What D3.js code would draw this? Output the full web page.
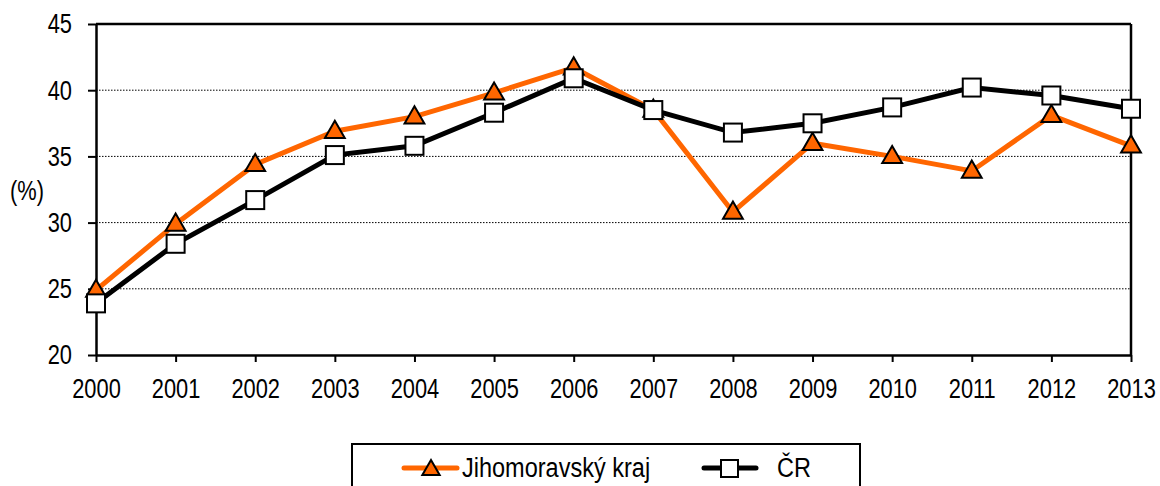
<html>
<head>
<meta charset="utf-8">
<script type="text/javascript" src="https://d3js.org/d3.v7.min.js"></script>
<style>
  body{margin:0;background:#fff;}
  text{font-family:"Liberation Sans Narrow","Arial Narrow","Liberation Sans",Arial,sans-serif;fill:#000;}
</style>
</head>
<body>
<svg width="1160" height="486"></svg>
<script>
	var years = [2000,2001,2002,2003,2004,2005,2006,2007,2008,2009,2010,2011,2012,2013];
	var jihomoravsky = [24.9,29.9,34.4,36.9,38.0,39.8,41.7,38.5,30.8,36.0,35.0,33.9,38.1,35.8];
	var cr = [23.9,28.4,31.7,35.1,35.8,38.3,40.9,38.5,36.8,37.5,38.7,40.2,39.6,38.6];
	var yTicks = [20,25,30,35,40,45];
	var seriesNames = ["Jihomoravský kraj","ČR"];

	var svg = d3.select("svg");
	var orange = "#ff6600";
	var fs = 28;      // velikost pisma
	var sx = 0.78;    // zuzeni pisma (uzky font neni k dispozici)
	var sxLeg = 0.84;

	var x = d3.scaleLinear().domain([2000,2013]).range([96,1131]);
	var y = d3.scaleLinear().domain([20,45]).range([355,24]);

	// mrizka
	svg.append("g").selectAll("line")
		.data(yTicks.filter(function(d){ return d>20 && d<45; }))
		.enter().append("line")
		.attr("x1",x(2000)).attr("x2",x(2013))
		.attr("y1",function(d){ return y(d); })
		.attr("y2",function(d){ return y(d); })
		.attr("stroke","#000")
		.attr("stroke-width",1)
		.attr("stroke-dasharray","1.5,1.5");

	// osy
	var yAxis = d3.axisLeft(y).tickValues(yTicks).tickSize(8).tickSizeOuter(0).tickPadding(16);
	var xAxis = d3.axisBottom(x).tickValues(years).tickFormat(d3.format("d")).tickSize(7).tickSizeOuter(0).tickPadding(16);

	var gy = svg.append("g").attr("transform","translate("+x(2000)+",0)").call(yAxis);
	var gx = svg.append("g").attr("transform","translate(0,"+y(20)+")").call(xAxis);
	[gy,gx].forEach(function(g){
		g.select(".domain").attr("stroke","#000").attr("stroke-width",2.5);
		g.selectAll(".tick line").attr("stroke","#000").attr("stroke-width",2);
		g.selectAll(".tick text").attr("font-size",fs).attr("fill","#000")
			.style("font-family","'Liberation Sans',Arial,sans-serif")
			.attr("transform","scale("+sx+",1)");
	});
	gy.selectAll(".tick text").attr("x",-24/sx);

	// horni a prava hrana
	svg.append("line").attr("x1",x(2000)).attr("x2",x(2013)).attr("y1",y(45)).attr("y2",y(45))
		.attr("stroke","#000").attr("stroke-width",2.5);
	svg.append("line").attr("x1",x(2013)).attr("x2",x(2013)).attr("y1",y(45)).attr("y2",y(20))
		.attr("stroke","#000").attr("stroke-width",2.5);

	svg.append("text").attr("text-anchor","middle").attr("font-size",fs)
		.attr("transform","translate(27,200) scale("+sx+",1)").text("(%)");

	var line = d3.line()
		.x(function(d,i){ return x(years[i]); })
		.y(function(d){ return y(d); });

	var tri = d3.symbol().type(d3.symbolTriangle).size(170);

	// Jihomoravsky kraj
	svg.append("path").datum(jihomoravsky).attr("d",line)
		.attr("fill","none").attr("stroke",orange).attr("stroke-width",5);
	svg.append("g").selectAll("path")
		.data(jihomoravsky).enter().append("path")
		.attr("d",tri)
		.attr("transform",function(d,i){ return "translate("+x(years[i])+","+(y(d)+1)+")"; })
		.attr("fill",orange).attr("stroke","#000").attr("stroke-width",2);

	// CR
	svg.append("path").datum(cr).attr("d",line)
		.attr("fill","none").attr("stroke","#000").attr("stroke-width",5);
	svg.append("g").selectAll("rect")
		.data(cr).enter().append("rect")
		.attr("x",function(d,i){ return x(years[i])-9; })
		.attr("y",function(d){ return y(d)-9; })
		.attr("width",18).attr("height",18)
		.attr("fill","#fff").attr("stroke","#000").attr("stroke-width",2);

	// legenda
	var lg = svg.append("g");
	lg.append("rect").attr("x",352).attr("y",444).attr("width",508).attr("height",60)
		.attr("fill","#fff").attr("stroke","#000").attr("stroke-width",2);
	lg.append("line").attr("x1",404).attr("x2",457).attr("y1",468).attr("y2",468)
		.attr("stroke",orange).attr("stroke-width",5).attr("stroke-linecap","round");
	lg.append("path").attr("d",d3.symbol().type(d3.symbolTriangle).size(130))
		.attr("transform","translate(431,470)")
		.attr("fill",orange).attr("stroke","#000").attr("stroke-width",2);
	lg.append("text").attr("font-size",fs)
		.attr("transform","translate(462,477) scale("+sxLeg+",1)").text(seriesNames[0]);
	lg.append("line").attr("x1",704).attr("x2",756).attr("y1",468).attr("y2",468)
		.attr("stroke","#000").attr("stroke-width",5).attr("stroke-linecap","round");
	lg.append("rect").attr("x",721).attr("y",460).attr("width",17).attr("height",17)
		.attr("fill","#fff").attr("stroke","#000").attr("stroke-width",2);
	lg.append("text").attr("font-size",fs)
		.attr("transform","translate(777,477) scale("+sxLeg+",1)").text(seriesNames[1]);
</script>
</body>
</html>
